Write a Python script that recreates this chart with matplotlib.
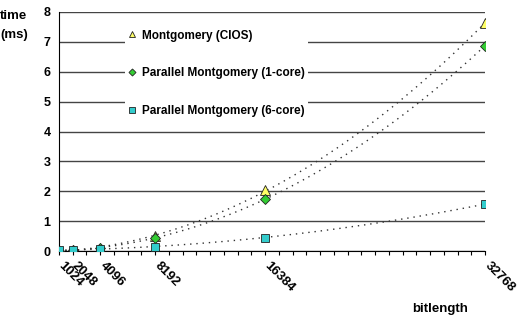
import numpy as np
import matplotlib.pyplot as plt

plt.rcParams['font.family'] = ['Liberation Sans', 'DejaVu Sans']
plt.rcParams['font.weight'] = 'bold'

# data
bitlength = [1024, 2048, 4096, 8192, 16384, 32768]
cios      = [0.01, 0.03, 0.10, 0.50, 2.03, 7.63]
par_1core = [0.01, 0.03, 0.10, 0.45, 1.73, 6.87]
par_6core = [0.02, 0.03, 0.08, 0.15, 0.45, 1.57]
tick_labels = ['1024', '2048', '4096', '8192', '16384', '32768']

series = [
    ('Montgomery (CIOS)',            cios,      '^', '#FFFF66'),
    ('Parallel Montgomery (1-core)', par_1core, 'D', '#33CC33'),
    ('Parallel Montgomery (6-core)', par_6core, 's', '#33CCCC'),
]

fig = plt.figure(figsize=(5.19, 3.24), dpi=100)
ax = fig.add_axes([59/519, 1-251/324, 426/519, 239/324])

x = np.array(bitlength, dtype=float)
xs = np.linspace(x[0], x[-1], 200)
handles = []
for label, ys, mk, col in series:
    # Excel-style 2nd order polynomial trendline
    coef = np.polyfit(x, ys, 2)
    ax.plot(xs, np.polyval(coef, xs), color='#333333', lw=1.0,
            ls=(0, (1, 3.5)), zorder=2)
    ms = {'^': 6.5, 'D': 4.8, 's': 5.5}[mk]
    h, = ax.plot(x, ys, ls='none', marker=mk, ms=ms, mfc=col, mec='#222222',
                 mew=0.6, zorder=4, label=label)
    handles.append(h)

ax.set_xlim(1024, 32768)
ax.set_ylim(0, 8)
ax.set_yticks(range(0, 9))
ax.yaxis.grid(True, color='#444444', lw=1.0)
ax.set_axisbelow(True)
for s in ['top', 'right']:
    ax.spines[s].set_visible(False)
ax.spines['left'].set_color('black')
ax.spines['bottom'].set_color('black')
ax.tick_params(axis='y', length=0, pad=6, labelsize=9)

ax.set_xticks(np.arange(1024, 32769, 1024))
ax.set_xticklabels([])
ax.tick_params(axis='x', length=3, width=0.8, direction='out')
for v, t in zip(bitlength, tick_labels):
    ax.annotate(t, xy=(v, 0), xycoords='data', xytext=(4, -6),
                textcoords='offset points', rotation=-45,
                rotation_mode='anchor', ha='left', va='top', fontsize=9.5,
                fontweight='bold', annotation_clip=False)

for lbl in ax.get_yticklabels():
    lbl.set_fontweight('bold')

fig.text(0, 1-10/324, 'time\n(ms)', ha='left', va='top', fontsize=9.5,
         fontweight='bold', linespacing=1.75)
fig.text(440/519, 1-309/324, 'bitlength', ha='center', va='center',
         fontsize=9.5, fontweight='bold')

leg = ax.legend(handles=handles, loc='upper left',
                bbox_to_anchor=(125/519, 1-26/324),
                bbox_transform=fig.transFigure, frameon=True,
                facecolor='white', edgecolor='none', framealpha=1,
                fancybox=False, handlelength=0.6, markerscale=0.75,
                handletextpad=0.5, labelspacing=2.17, borderpad=0.3,
                borderaxespad=0, prop={'weight': 'bold', 'size': 8.5})
leg.set_zorder(3)

fig.savefig('out.png', dpi=100)
